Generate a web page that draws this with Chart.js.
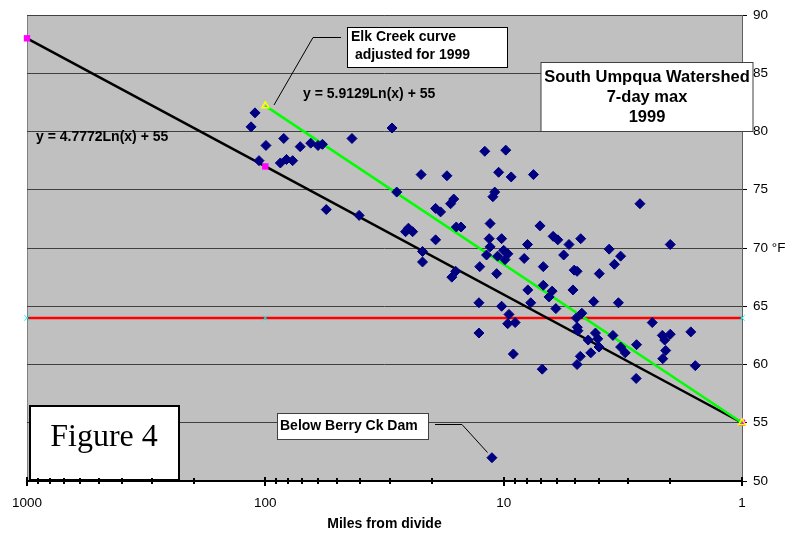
<!DOCTYPE html>
<html><head><meta charset="utf-8">
<script src="https://cdn.jsdelivr.net/npm/chart.js@4.4.0/dist/chart.umd.min.js"></script>
<style>html,body{margin:0;padding:0;background:#fff;}canvas{display:block;}</style>
</head><body>
<canvas id="c" width="802" height="533"></canvas>
<script>
// ---- data ----
const milesFromDivide = [110.5,114.8,99.4,83.7,106.3,86.5,81.5,76.8,71.4,64.5,60.1,57.6,43.3,29.4,22.2,17.3,28.1,55.5,40.4,25.1,
  25.8,24.1,19.3,21.9,21.9,15.9,16.5,19.3,18.4,16.7,16.2,15.8,15.1,12.0,9.8,10.5,9.3,7.5,10.9,11.1,
  2.68,11.4,7.04,11.5,10.2,6.2,5.93,5.32,4.75,7.94,11.4,2.0,10.0,9.6,11.8,10.6,9.87,8.2,5.6,3.61,
  3.23,3.43,12.6,10.7,6.82,5.06,4.92,3.97,6.82,7.92,5.12,6.26,6.45,7.7,12.7,10.2,6.04,4.19,3.3,4.7,
  9.5,4.95,9.62,8.95,2.38,12.7,4.91,4.88,4.12,4.03,4.42,3.98,3.48,2.77,3.23,3.09,2.16,2.0,2.11,1.64,
  2.09,2.15,4.31,4.77,4.92,1.57,2.78,9.11,6.89,11.2];
const sevenDayMaxF = [81.6,80.4,78.8,79.4,77.5,77.3,77.6,77.5,78.7,79.0,78.8,78.9,79.4,80.3,76.3,76.2,74.8,73.3,72.8,71.7,
  71.4,71.4,70.7,69.7,68.8,68.0,67.5,73.4,73.1,73.8,74.2,71.8,71.8,78.3,78.4,76.5,76.1,76.3,74.8,74.4,
  73.8,72.1,71.9,70.8,70.8,71.0,70.7,70.3,70.8,70.3,70.1,70.3,69.8,69.5,69.4,69.3,69.0,69.1,69.4,69.9,
  69.3,68.6,68.4,67.8,68.4,68.1,68.0,67.8,66.8,66.4,66.4,66.3,65.8,65.3,65.3,65.0,64.8,65.4,65.3,64.4,
  64.3,64.0,63.5,63.6,63.6,62.7,63.2,62.9,62.7,62.2,62.1,61.5,62.5,61.7,61.5,61.0,62.5,62.6,62.1,62.8,
  61.2,60.5,61.0,60.7,60.0,59.9,58.8,60.9,59.6,52.0];
const southCurveMiles = [1000, 100, 1];      // y = 4.7772Ln(x) + 55
const southCurveTemp  = [88.0, 77.0, 55.0];
const elkCurveMiles   = [100, 1];            // y = 5.9129Ln(x) + 55
const elkCurveTemp    = [82.2, 55.0];
const criterionMiles  = [1000, 100, 1];
const criterionTemp   = [64, 64, 64];
const xTickValues = [1,2,3,4,5,6,7,8,9,10,20,30,40,50,60,70,80,90,100,200,300,400,500,600,700,800,900,1000];
const xLabeledTicks = [1, 10, 100, 1000];
const yTickValues = [50, 55, 60, 65, 70, 75, 80, 85, 90];

const SANS = "'Liberation Sans', Arial, sans-serif";
const SERIF = "'Liberation Serif', 'Times New Roman', serif";

const decor = {
  id: 'decor',
  beforeDraw(chart) {
    const { ctx, chartArea: a } = chart;
    ctx.save();
    ctx.fillStyle = '#c0c0c0';
    ctx.fillRect(a.left, a.top, a.right - a.left, a.bottom - a.top);
    ctx.strokeStyle = '#808080';
    ctx.lineWidth = 1;
    ctx.beginPath();
    ctx.moveTo(a.left + 0.5, a.bottom);
    ctx.lineTo(a.left + 0.5, a.top + 0.5);
    ctx.lineTo(a.right, a.top + 0.5);
    ctx.stroke();
    ctx.restore();
  },
  afterDatasetsDraw(chart) {
    const { ctx } = chart;
    ctx.save();
    ctx.textBaseline = 'middle';
    // Elk Creek box + leader
    ctx.strokeStyle = '#000'; ctx.lineWidth = 1;
    ctx.beginPath(); ctx.moveTo(341, 37.5); ctx.lineTo(313, 37.5); ctx.lineTo(274, 105); ctx.stroke();
    ctx.fillStyle = '#fff';
    ctx.fillRect(347.5, 27.5, 160, 40);
    ctx.strokeRect(347.5, 27.5, 160, 40);
    ctx.fillStyle = '#000';
    ctx.font = 'bold 14px ' + SANS;
    ctx.textAlign = 'left';
    ctx.fillText('Elk Creek curve', 351, 37.5);
    ctx.fillText(' adjusted for 1999', 351, 55.5);
    // equations
    ctx.fillText('y = 5.9129Ln(x) + 55', 303, 94);
    ctx.fillText('y = 4.7772Ln(x) + 55', 36, 137.5);
    // South Umpqua box
    ctx.fillStyle = '#fff';
    ctx.fillRect(541, 62.5, 212, 69);
    ctx.strokeStyle = '#404040';
    ctx.strokeRect(541, 62.5, 212, 69);
    ctx.fillStyle = '#000';
    ctx.font = 'bold 16.5px ' + SANS;
    ctx.textAlign = 'center';
    ctx.fillText('South Umpqua Watershed', 647, 77);
    ctx.fillText('7-day max', 647, 97);
    ctx.fillText('1999', 647, 117.5);
    // Berry Ck Dam box + leader
    ctx.strokeStyle = '#000';
    ctx.beginPath(); ctx.moveTo(435, 424.5); ctx.lineTo(462, 424.5); ctx.lineTo(487.5, 452.5); ctx.stroke();
    ctx.fillStyle = '#fff';
    ctx.fillRect(277.5, 413.5, 151, 26);
    ctx.strokeStyle = '#404040';
    ctx.strokeRect(277.5, 413.5, 151, 26);
    ctx.fillStyle = '#000';
    ctx.font = 'bold 14px ' + SANS;
    ctx.textAlign = 'left';
    ctx.fillText('Below Berry Ck Dam', 280, 426.5);
    // Figure 4 box
    ctx.fillStyle = '#fff';
    ctx.fillRect(30, 406, 149, 74);
    ctx.strokeStyle = '#000'; ctx.lineWidth = 2;
    ctx.strokeRect(30, 406, 149, 74);
    ctx.fillStyle = '#000';
    ctx.font = '32px ' + SERIF;
    ctx.textAlign = 'center';
    ctx.fillText('Figure 4', 104, 438);
    ctx.restore();
  },
  afterDraw(chart) {
    const { ctx } = chart;
    const xs = chart.scales.x;
    const a = chart.chartArea;
    ctx.save();
    ctx.strokeStyle = '#000';
    ctx.lineWidth = 2;
    xTickValues.forEach(v => {
      const px = Math.round(xs.getPixelForValue(v));
      const major = xLabeledTicks.includes(v);
      ctx.beginPath();
      ctx.moveTo(px, a.bottom - (major ? 4 : 3));
      ctx.lineTo(px, a.bottom + (major ? 5 : 3));
      ctx.stroke();
    });
    ctx.fillStyle = '#000';
    ctx.font = 'bold 14px ' + SANS;
    ctx.textAlign = 'center';
    ctx.textBaseline = 'middle';
    ctx.fillText('Miles from divide', (a.left + a.right) / 2, 524);
    ctx.restore();
  }
};

new Chart(document.getElementById('c'), {
  type: 'scatter',
  data: {
    datasets: [
      {
        label: '7-day max',
        data: milesFromDivide.map((m, i) => ({ x: m, y: sevenDayMaxF[i] })),
        pointStyle: 'rectRot', pointRadius: 5, pointHoverRadius: 5,
        backgroundColor: '#000080', borderColor: '#000080', borderWidth: 1,
        order: 0
      },
      {
        type: 'line', label: 'South Umpqua curve', showLine: true, clip: false,
        data: southCurveMiles.map((m, i) => ({ x: m, y: southCurveTemp[i] })),
        borderColor: '#000', borderWidth: 2.5, tension: 0, fill: false,
        pointStyle: 'rect', pointRadius: 4.5, pointBackgroundColor: '#ff00ff', pointBorderColor: '#ff00ff', pointBorderWidth: 0,
        order: 2
      },
      {
        type: 'line', label: 'Elk Creek curve', showLine: true, clip: false,
        data: elkCurveMiles.map((m, i) => ({ x: m, y: elkCurveTemp[i] })),
        borderColor: '#00ff00', borderWidth: 2.5, tension: 0, fill: false,
        pointStyle: 'triangle', pointRadius: 4, pointBackgroundColor: 'rgba(0,0,0,0)', pointBorderColor: '#ffff00', pointBorderWidth: 1.5,
        order: 1
      },
      {
        type: 'line', label: 'Criterion', showLine: true, clip: false,
        data: criterionMiles.map((m, i) => ({ x: m, y: criterionTemp[i] })),
        borderColor: '#ff0000', borderWidth: 2.5, tension: 0, fill: false,
        pointStyle: 'crossRot', pointRadius: 4, pointBorderColor: '#00ffff', pointBorderWidth: 1,
        order: 3
      }
    ]
  },
  options: {
    responsive: false,
    animation: false,
    events: [],
    layout: { padding: { left: 27, top: 15, right: 0, bottom: 0 } },
    plugins: { legend: { display: false }, tooltip: { enabled: false } },
    scales: {
      x: {
        type: 'logarithmic', min: 1, max: 1000, reverse: true,
        afterBuildTicks: s => { s.ticks = xTickValues.map(v => ({ value: v })); },
        afterFit: s => { s.height = 52; },
        grid: { display: false },
        border: { display: true, color: '#000', width: 2 },
        ticks: {
          autoSkip: false, maxRotation: 0, minRotation: 0, padding: 6, color: '#000',
          font: { family: SANS, size: 13.5 },
          callback: v => xLabeledTicks.includes(v) ? String(v) : ''
        }
      },
      y: {
        position: 'right', min: 50, max: 90,
        afterBuildTicks: s => { s.ticks = yTickValues.map(v => ({ value: v })); },
        afterFit: s => { s.width = 60; },
        grid: { color: '#404040', lineWidth: 1, drawTicks: true, tickLength: 5, tickColor: '#000' },
        border: { display: true, color: '#606060', width: 1 },
        ticks: {
          z: 1, padding: 6, color: '#000',
          font: { family: SANS, size: 13.5 },
          callback: v => v === 70 ? '70 °F' : String(v)
        }
      }
    }
  },
  plugins: [decor]
});
</script>
</body></html>
